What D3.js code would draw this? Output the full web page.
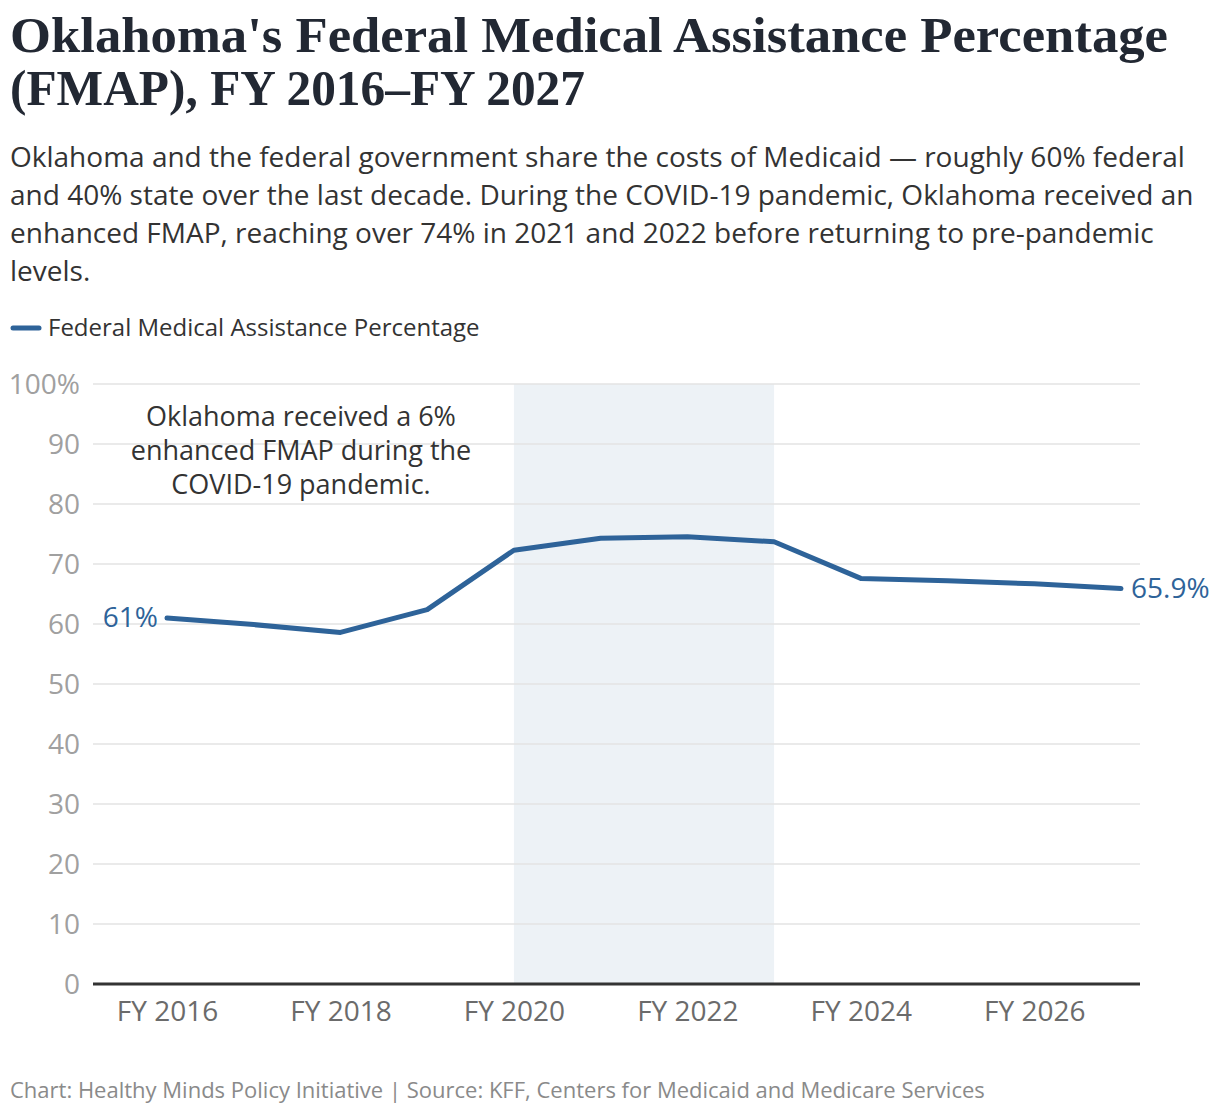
<!DOCTYPE html>
<html>
<head>
<meta charset="utf-8">
<script src="https://cdn.jsdelivr.net/npm/d3@7"></script>
<style>
  body { margin: 0; background: #fff; }
  svg text { font-family: "Open Sans", "Noto Sans", sans-serif; }
</style>
</head>
<body>
<svg id="chart" width="1220" height="1116"></svg>
<script>
'use strict';

// data
var years = [2016, 2017, 2018, 2019, 2020, 2021, 2022, 2023, 2024, 2025, 2026, 2027];
var fmap = [60.99, 59.9, 58.6, 62.4, 72.3, 74.3, 74.55, 73.7, 67.6, 67.2, 66.7, 65.9];
var tickYears = [2016, 2018, 2020, 2022, 2024, 2026];
var yTicks = [0, 10, 20, 30, 40, 50, 60, 70, 80, 90, 100];
var covidSpan = [2020, 2023];

var titleLines = [
    "Oklahoma's Federal Medical Assistance Percentage",
    '(FMAP), FY 2016\u2013FY 2027'
];
var titleWidths = [1158, 575];
var subtitleLines = [
    'Oklahoma and the federal government share the costs of Medicaid \u2014 roughly 60% federal',
    'and 40% state over the last decade. During the COVID-19 pandemic, Oklahoma received an',
    'enhanced FMAP, reaching over 74% in 2021 and 2022 before returning to pre-pandemic',
    'levels.'
];
var noteLines = [
    'Oklahoma received a 6%',
    'enhanced FMAP during the',
    'COVID-19 pandemic.'
];
var seriesName = 'Federal Medical Assistance Percentage';
var footer = 'Chart: Healthy Minds Policy Initiative | Source: KFF, Centers for Medicaid and Medicare Services';

var blue = '#2e6399',
    ink = '#222833';

var svg = d3.select('#chart');

var plot = { left: 93, right: 1140, top: 384, bottom: 984 };

var x = d3.scaleLinear()
    .domain([2016, 2027])
    .range([167, 1121]);

var y = d3.scaleLinear()
    .domain([0, 100])
    .range([plot.bottom, plot.top]);

// title, stretched to the reference line widths
svg.append('g')
    .selectAll('text')
        .data(titleLines)
    .enter().append('text')
    .attr('x', 10)
    .attr('y', function(d, i) { return 52 + i * 53; })
    .attr('textLength', function(d, i) { return titleWidths[i]; })
    .attr('lengthAdjust', 'spacingAndGlyphs')
    .style('font-family', '"Liberation Serif", "DejaVu Serif", serif')
    .style('font-weight', 700)
    .style('font-size', '51px')
    .style('fill', ink)
    .text(function(d) { return d; });

// subtitle
svg.append('g')
    .selectAll('text')
        .data(subtitleLines)
    .enter().append('text')
    .attr('x', 10)
    .attr('y', function(d, i) { return 167 + i * 38; })
    .style('font-size', '28px')
    .style('fill', '#333')
    .text(function(d) { return d; });

// legend
svg.append('line')
    .attr('x1', 13).attr('x2', 39)
    .attr('y1', 328).attr('y2', 328)
    .style('stroke', blue)
    .style('stroke-width', 5)
    .style('stroke-linecap', 'round');

svg.append('text')
    .attr('x', 48)
    .attr('y', 336)
    .style('font-size', '24px')
    .style('fill', '#333')
    .text(seriesName);

// covid band
svg.append('rect')
    .attr('x', x(covidSpan[0]))
    .attr('y', plot.top)
    .attr('width', x(covidSpan[1]) - x(covidSpan[0]))
    .attr('height', plot.bottom - plot.top)
    .style('fill', '#edf2f6');

// gridlines
svg.append('g')
    .selectAll('line')
        .data(yTicks.filter(function(d) { return d > 0; }))
    .enter().append('line')
    .attr('x1', plot.left)
    .attr('x2', plot.right)
    .attr('y1', function(d) { return y(d); })
    .attr('y2', function(d) { return y(d); })
    .style('stroke', '#e3e3e3')
    .style('stroke-width', 1.5);

// y tick labels
svg.append('g')
    .selectAll('text')
        .data(yTicks)
    .enter().append('text')
    .attr('x', 80)
    .attr('y', function(d) { return y(d) + 10; })
    .attr('text-anchor', 'end')
    .style('font-size', '28px')
    .style('fill', '#a0a0a0')
    .text(function(d) { return d === 100 ? '100%' : d; });

// x axis
var xAxis = svg.append('g')
    .attr('transform', 'translate(0,' + plot.bottom + ')')
    .call(d3.axisBottom(x)
        .tickValues(tickYears)
        .tickSize(0)
        .tickPadding(17)
        .tickFormat(function(d) { return 'FY ' + d; }));

xAxis.select('.domain')
    .attr('d', 'M' + plot.left + ',0H' + plot.right)
    .style('stroke', '#333')
    .style('stroke-width', 3);

xAxis.selectAll('text')
    .style('font-family', '"Open Sans", "Noto Sans", sans-serif')
    .style('font-size', '28px')
    .style('fill', '#6b6b6b');

// annotation
svg.append('g')
    .selectAll('text')
        .data(noteLines)
    .enter().append('text')
    .attr('x', 301)
    .attr('y', function(d, i) { return 426 + i * 34; })
    .attr('text-anchor', 'middle')
    .style('font-size', '27px')
    .style('fill', '#333')
    .text(function(d) { return d; });

// series line
var line = d3.line()
    .x(function(d, i) { return x(years[i]); })
    .y(function(d) { return y(d); });

svg.append('path')
    .datum(fmap)
    .attr('d', line)
    .style('fill', 'none')
    .style('stroke', blue)
    .style('stroke-width', 5)
    .style('stroke-linejoin', 'round')
    .style('stroke-linecap', 'round');

// end labels
var last = fmap.length - 1;

svg.append('text')
    .attr('x', x(years[0]) - 9)
    .attr('y', y(fmap[0]) + 9)
    .attr('text-anchor', 'end')
    .style('font-size', '28px')
    .style('fill', blue)
    .text(d3.format('.0f')(fmap[0]) + '%');

svg.append('text')
    .attr('x', x(years[last]) + 10)
    .attr('y', y(fmap[last]) + 9)
    .style('font-size', '28px')
    .style('fill', blue)
    .text(d3.format('.1f')(fmap[last]) + '%');

// footer
svg.append('text')
    .attr('x', 10)
    .attr('y', 1098)
    .style('font-size', '22px')
    .style('fill', '#8a8a8a')
    .text(footer);
</script>
</body>
</html>
